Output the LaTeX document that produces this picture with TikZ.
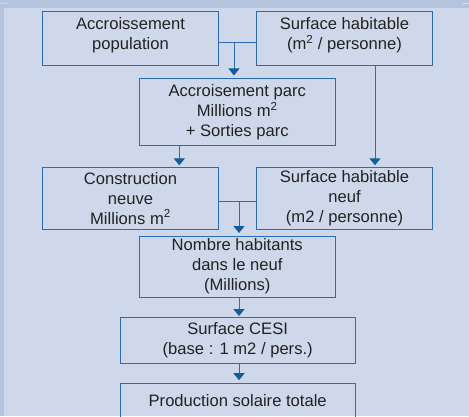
\documentclass[tikz,border=0pt]{standalone}
\usepackage{fontspec}
\setmainfont{Liberation Sans}
\usetikzlibrary{arrows.meta}
\definecolor{bgblue}{HTML}{CFD8EA}
\definecolor{stripblue}{HTML}{B4C4DF}
\definecolor{boxline}{HTML}{2B6DB0}
\definecolor{tipblue}{HTML}{125D9E}
\definecolor{txt}{HTML}{222222}
\tikzset{
  box/.style={draw=boxline, line width=1pt, align=center, text=txt, inner sep=0pt,
    font=\fontsize{16.6}{20}\selectfont},
  flow/.style={draw=boxline, line width=1pt},
  arr/.style={flow, -{Triangle[width=11pt,length=7pt,color=tipblue]}, shorten >=1.5pt}
}
\newcommand{\msq}{m\textsuperscript{2}}
\begin{document}
\begin{tikzpicture}[x=1pt,y=1pt]
\useasboundingbox (0,0) rectangle (469,-416);
\clip (0,0) rectangle (469,-416);
\fill[bgblue] (0,0) rectangle (469,-416);
\fill[stripblue] (0,0) rectangle (469,-8);
\fill[stripblue] (0,-8) rectangle (3.7,-416);
\draw[white, opacity=0.4, line width=0.8pt] (0,-3) -- (7,-3);
\draw[white, opacity=0.4, line width=0.8pt] (462,-3) -- (469,-3);

\node[box, minimum width=176pt, minimum height=54pt] (b1) at (130.5,-38.5) {};
\node[text=txt, align=center, font=\fontsize{16.6}{20}\selectfont] (t1) at (130.5,-35) {Accroissement\\population};
\node[box, minimum width=176pt, minimum height=54pt] (b2) at (344.5,-38.5) {};
\node[text=txt, align=center, font=\fontsize{16.6}{20}\selectfont] (t2) at (344.5,-35) {Surface habitable\\(\msq{} / personne)};

\node[box, minimum width=195.5pt, minimum height=66.7pt] (b3) at (237.25,-112.3) {Accroisement parc\\Millions \msq\\+ Sorties parc};

\node[box, minimum width=176pt, minimum height=62pt] (b4) at (130.5,-198.3) {Construction\\neuve\\Millions \msq};
\node[box, minimum width=176pt, minimum height=62pt] (b5) at (344.5,-198.3) {Surface habitable\\neuf\\(m2 / personne)};

\node[box, minimum width=195.5pt, minimum height=61pt] (b6) at (237.25,-266.5) {Nombre habitants\\dans le neuf\\(Millions)};

\node[box, minimum width=234.7pt, minimum height=45.7pt] (b7) at (237.7,-340.2) {Surface CESI\\(base : 1 m2 / pers.)};

\node[box, minimum width=234.7pt, minimum height=34pt] (b8) at (237.7,-400.3) {Production solaire totale};

\coordinate (j1) at (234,-42.7);
\draw[flow] (b1.east |- j1) -- (b2.west |- j1);
\draw[arr, shorten >=3pt] (j1) -- (j1 |- b3.north);

\coordinate (k1) at (375,0);
\draw[arr] (k1 |- b2.south) -- (k1 |- b5.north);
\coordinate (k2) at (179.3,0);
\draw[arr] (k2 |- b3.south) -- (k2 |- b4.north);

\coordinate (j2) at (239,-201.7);
\draw[flow] (b4.east |- j2) -- (b5.west |- j2);
\draw[arr, shorten >=2.5pt] (j2) -- (j2 |- b6.north);

\coordinate (k3) at (239,0);
\draw[arr, shorten >=0.8pt] (k3 |- b6.south) -- (k3 |- b7.north);
\draw[arr, shorten >=2.6pt] (k3 |- b7.south) -- (k3 |- b8.north);
\end{tikzpicture}
\end{document}
